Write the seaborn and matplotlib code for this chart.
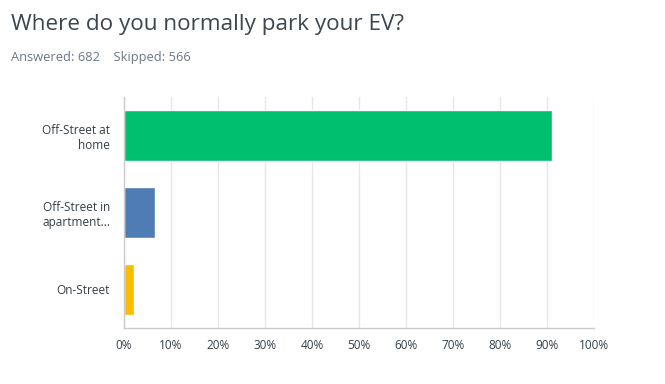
import matplotlib
matplotlib.use("Agg")
import matplotlib.pyplot as plt
import seaborn as sns
import pandas as pd
from matplotlib.ticker import PercentFormatter

categories = ["Off-Street at\nhome", "Off-Street in\napartment...", "On-Street"]
percent = [91.1, 6.6, 2.1]
colors = ["#00BF6F", "#507CB6", "#F9BE00"]
x_ticks = [0, 10, 20, 30, 40, 50, 60, 70, 80, 90, 100]

df = pd.DataFrame({"answer": categories, "percent": percent})

sns.set_style("white")
plt.rcParams["font.family"] = ["Open Sans", "DejaVu Sans"]

fig = plt.figure(figsize=(6.65, 3.84), dpi=100)
ax = fig.add_axes([124 / 665, 1 - 328 / 384, 470 / 665, 231 / 384])

sns.barplot(data=df, x="percent", y="answer", hue="answer", palette=colors,
            orient="h", width=0.65, legend=False, ax=ax, saturation=1)

ax.set_xlim(0, 100)
ax.set_ylim(2.5, -0.5)
ax.set_xticks(x_ticks)
ax.xaxis.set_major_formatter(PercentFormatter(decimals=0))
ax.grid(axis="x", color="#e6e6e6", linewidth=1)
ax.set_axisbelow(True)
ax.set_xlabel("")
ax.set_ylabel("")
for side in ["top", "right"]:
    ax.spines[side].set_visible(False)
for side in ["left", "bottom"]:
    ax.spines[side].set_color("#cccccc")
    ax.spines[side].set_linewidth(1)
ax.tick_params(axis="x", length=0, pad=8, labelsize=8.5, labelcolor="#333e48")
ax.tick_params(axis="y", length=0, pad=10, labelsize=8.5, labelcolor="#333e48")
for lbl in ax.get_yticklabels():
    lbl.set_horizontalalignment("right")
    lbl.set_multialignment("right")

fig.text(11 / 665, 1 - 30 / 384, "Where do you normally park your EV?",
         fontsize=16.2, color="#3b4650", va="baseline")
fig.text(11 / 665, 1 - 61 / 384, "Answered: 682    Skipped: 566",
         fontsize=9.3, color="#6b7785", va="baseline")

fig.savefig("out.png", dpi=100, facecolor="white")
